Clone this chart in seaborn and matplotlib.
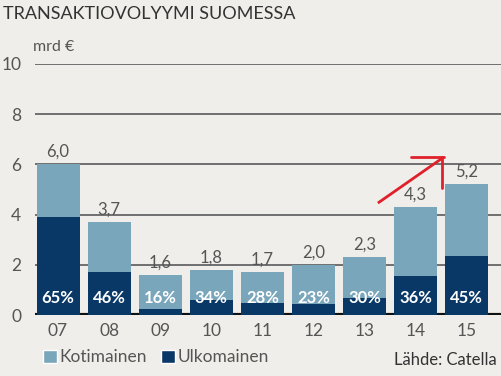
import matplotlib
matplotlib.use("Agg")
import matplotlib.pyplot as plt
import seaborn as sns
import pandas as pd
from matplotlib.patches import Patch

years = ["07", "08", "09", "10", "11", "12", "13", "14", "15"]
total = [6.0, 3.7, 1.6, 1.8, 1.7, 2.0, 2.3, 4.3, 5.2]
foreign = [3.9, 1.7, 0.26, 0.61, 0.48, 0.46, 0.69, 1.55, 2.34]
foreign_share = [65, 46, 16, 34, 28, 23, 30, 36, 45]
total_labels = ["6,0", "3,7", "1,6", "1,8", "1,7", "2,0", "2,3", "4,3", "5,2"]

# hand-drawn red arrow (data coords)
arrow_shaft = ([6.26, 7.55], [4.46, 6.29])
arrow_head_h = ([6.90, 7.55], [6.29, 6.29])
arrow_head_v = ([7.52, 7.52], [6.29, 5.06])

bg = "#efeeea"
light = "#7aa6bb"
dark = "#0a3866"
grey = "#555555"

sns.set_style("white", {"axes.facecolor": bg, "figure.facecolor": bg})
plt.rcParams["font.family"] = ["Lato", "DejaVu Sans"]

df = pd.DataFrame({"year": years, "total": total, "foreign": foreign})

fig = plt.figure(figsize=(5.01, 3.76), dpi=100)
ax = fig.add_axes([0.07, 0.162, 0.93, 0.668])

sns.barplot(ax=ax, data=df, x="year", y="total", color=light, width=0.84,
            saturation=1, linewidth=0, edgecolor="none", zorder=3)
sns.barplot(ax=ax, data=df, x="year", y="foreign", color=dark, width=0.84,
            saturation=1, linewidth=0, edgecolor="none", zorder=4)

for y in [2, 4, 6, 8, 10]:
    ax.axhline(y, color="#5a5a5a", lw=1.2, zorder=1)
ax.axhline(0, color="#111111", lw=3, zorder=2)

for i, (t, lab, p) in enumerate(zip(total, total_labels, foreign_share)):
    ax.text(i, t + 0.18, lab, ha="center", va="bottom", fontsize=12, color=grey)
    ax.text(i, 0.68, f"{p}%", ha="center", va="center", fontsize=12,
            color="white", fontweight="bold", zorder=5)

ax.plot(*arrow_shaft, color="#e0202a", lw=2, zorder=6, solid_capstyle="butt")
ax.plot(*arrow_head_h, color="#e0202a", lw=2, zorder=6)
ax.plot(*arrow_head_v, color="#e0202a", lw=2, zorder=6)

ax.set_xlim(-0.45, 8.67)
ax.set_ylim(0, 10)
ax.set_yticks([0, 2, 4, 6, 8, 10])
ax.set_xlabel("")
ax.set_ylabel("")
for s in ax.spines.values():
    s.set_visible(False)
ax.tick_params(axis="y", length=0, pad=10, labelsize=12.5, labelcolor=grey)
ax.tick_params(axis="x", length=0, pad=6, labelsize=12.5, labelcolor=grey)

fig.text(0.006, 0.963, "TRANSAKTIOVOLYYMI SUOMESSA", fontsize=13,
         color="#333333", va="center", ha="left")
fig.text(0.066, 0.875, "mrd €", fontsize=11.5, color=grey, va="center", ha="left")
fig.text(0.992, 0.043, "Lähde: Catella", fontsize=12, color="#333333",
         va="center", ha="right")

handles = [Patch(facecolor=light, label="Kotimainen"),
           Patch(facecolor=dark, label="Ulkomainen")]
fig.legend(handles=handles, loc="center left", bbox_to_anchor=(0.055, 0.05),
           ncol=2, frameon=False, fontsize=12.5, handlelength=0.8,
           handleheight=0.8, handletextpad=0.15, columnspacing=0.8,
           labelcolor=grey)

fig.savefig("out.png", dpi=100, facecolor=bg)
